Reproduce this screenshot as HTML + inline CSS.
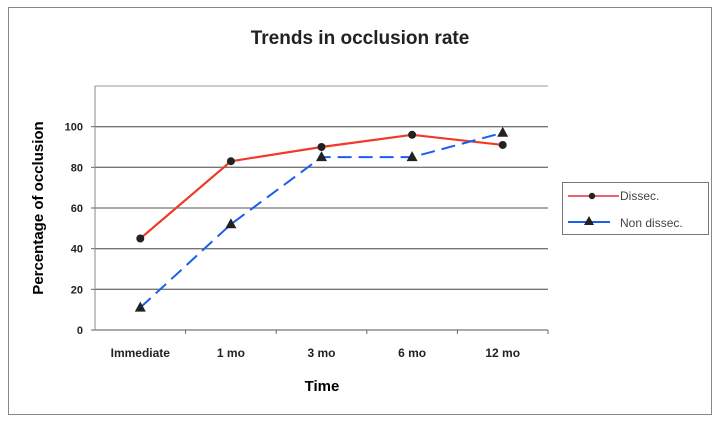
<!DOCTYPE html>
<html><head><meta charset="utf-8"><style>
body{margin:0;background:#fff;font-family:"Liberation Sans",sans-serif}
</style></head><body>
<svg width="720" height="422" xmlns="http://www.w3.org/2000/svg">
<rect x="8.5" y="7.5" width="703" height="407" fill="#fff" stroke="#888"/>
<text x="360" y="44" text-anchor="middle" font-size="19" font-weight="bold" fill="#222">Trends in occlusion rate</text>
<g id="grid"></g><g id="axes"></g><g id="series"></g>
<text x="322" y="391" text-anchor="middle" font-size="15" font-weight="bold">Time</text>
<text transform="translate(43,208) rotate(-90)" text-anchor="middle" font-size="15" font-weight="bold">Percentage of occlusion</text>
<g>
<rect x="562.5" y="182.5" width="146" height="52" fill="#fff" stroke="#777"/>
<g>
<line x1="568" y1="196" x2="619" y2="196" stroke="#f06070" stroke-width="2"/><circle cx="592" cy="196" r="3.2" fill="#222"/>
<text x="620" y="200" font-size="12" fill="#444">Dissec.</text></g>
<g>
<line x1="568" y1="222" x2="610" y2="222" stroke="#1a5ef0" stroke-width="2"/><polygon points="589,216 584,225 594,225" fill="#222"/>
<text x="620" y="227" font-size="12" fill="#444">Non dissec.</text></g>
</g>
</svg>
<script>
const categories=["Immediate","1 mo","3 mo","6 mo","12 mo"];
const dissec=[45,83,90,96,91];
const nonDissec=[11,52,85,85,97];
const yTicks=[0,20,40,60,80,100];
const NS="http://www.w3.org/2000/svg";
const L=95,R=548,T=86,B=330,YMAX=120;
const cw=(R-L)/categories.length;
const x=i=>L+cw*(i+0.5);
const y=v=>B-(v/YMAX)*(B-T);
function mk(tag,attrs,parent){const e=document.createElementNS(NS,tag);for(const k in attrs)e.setAttribute(k,attrs[k]);parent.appendChild(e);return e;}
const grid=document.getElementById('grid'),axes=document.getElementById('axes'),ser=document.getElementById('series');
mk('line',{x1:L,y1:y(YMAX),x2:R,y2:y(YMAX),stroke:'#999','stroke-width':1},grid);
yTicks.forEach(v=>{
 if(v>0){const g=mk('line',{x1:L,y1:y(v),x2:R,y2:y(v),stroke:'#777','stroke-width':1.3},grid);
 }
 mk('line',{x1:L-4,y1:y(v),x2:L,y2:y(v),stroke:'#666'},axes);
 const t=mk('text',{x:L-12,y:y(v)+4,'text-anchor':'end','font-size':11,'font-weight':'bold',fill:'#222'},axes);
 t.textContent=v;
 
 
});
mk('line',{x1:L,y1:T,x2:L,y2:B,stroke:'#888'},axes);
mk('line',{x1:L,y1:B,x2:R,y2:B,stroke:'#777','stroke-width':1.3},axes);
categories.forEach((c,i)=>{
 mk('line',{x1:L+cw*(i+1),y1:B,x2:L+cw*(i+1),y2:B+4,stroke:'#666'},axes);
 const t=mk('text',{x:x(i),y:B+27,'text-anchor':'middle','font-size':12,'font-weight':'bold',fill:'#222'},axes);
 t.textContent=c;
 
 
});
const p1=mk('polyline',{points:dissec.map((v,i)=>x(i)+','+y(v)).join(' '),fill:'none',stroke:'#f03a2a','stroke-width':2.2},ser);


const p2=mk('polyline',{points:nonDissec.map((v,i)=>x(i)+','+y(v)).join(' '),fill:'none',stroke:'#1a5ef0','stroke-width':2,'stroke-dasharray':'14,7'},ser);


dissec.forEach((v,i)=>{const c=mk('circle',{cx:x(i),cy:y(v),r:4,fill:'#222'},ser);
 
 });
nonDissec.forEach((v,i)=>{const px=x(i),py=y(v);
 const p=mk('polygon',{points:`${px},${py-6} ${px-5.5},${py+4} ${px+5.5},${py+4}`,fill:'#222'},ser);
 
 });
</script>
</body></html>
